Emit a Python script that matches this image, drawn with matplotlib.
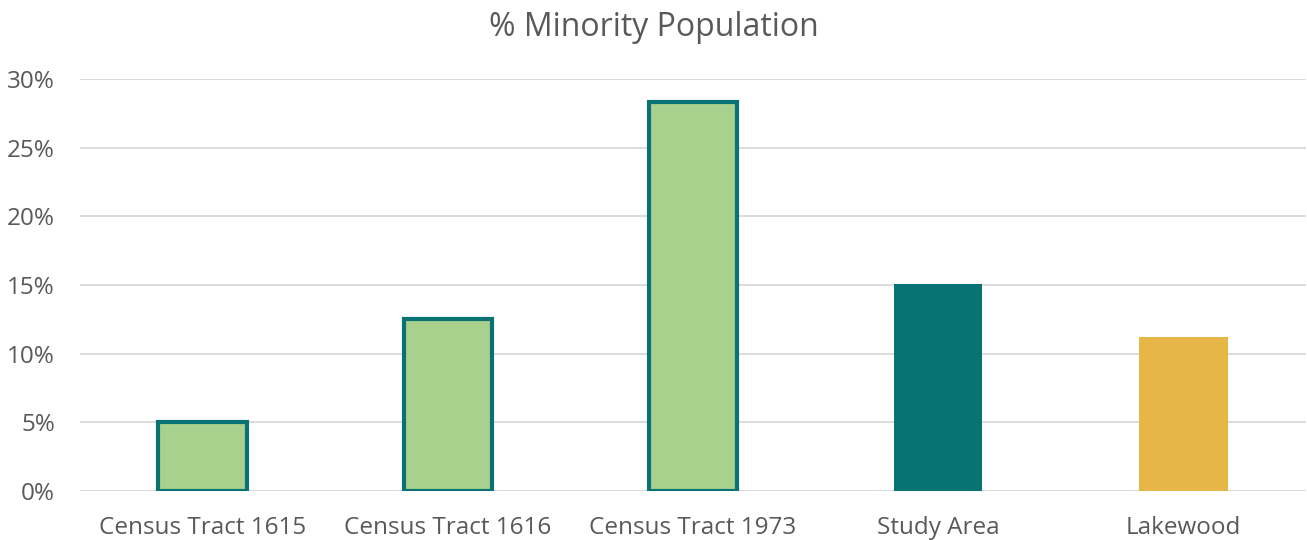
import matplotlib.pyplot as plt
from matplotlib.ticker import PercentFormatter

plt.rcParams['font.family'] = ['Open Sans', 'DejaVu Sans']

# values (percent)
categories = ['Census Tract 1615', 'Census Tract 1616', 'Census Tract 1973',
              'Study Area', 'Lakewood']
values = [5.0, 12.5, 28.3, 15.1, 11.2]
fills = ['#A9D18E', '#A9D18E', '#A9D18E', '#097373', '#E6B746']
outlined = [True, True, True, False, False]

text_col = '#595959'
teal = '#097373'

fig = plt.figure(figsize=(13.07, 5.4), dpi=100)
ax = fig.add_axes([80 / 1307, 49 / 540, 1226 / 1307, 412 / 540])

x = range(len(categories))
for i, v in enumerate(values):
    if outlined[i]:
        ax.bar(i, v, width=0.36, color=fills[i], edgecolor=teal,
               linewidth=3, zorder=3)
    else:
        ax.bar(i, v, width=0.36, color=fills[i], zorder=3)

ax.set_xlim(-0.5, len(categories) - 0.5)
ax.set_ylim(0, 30)
ax.set_yticks(range(0, 31, 5))
ax.yaxis.set_major_formatter(PercentFormatter(decimals=0))
ax.set_xticks(list(x))
ax.set_xticklabels(categories)

ax.grid(axis='y', color='#D9D9D9', linewidth=1.3, zorder=0)
for s in ax.spines.values():
    s.set_visible(False)
ax.tick_params(axis='both', length=0, labelsize=17.5, colors=text_col)
ax.tick_params(axis='x', pad=18)
ax.tick_params(axis='y', pad=18)

fig.suptitle('% Minority Population', y=0.98, fontsize=23, color=text_col)

fig.savefig('out.png', dpi=100)
